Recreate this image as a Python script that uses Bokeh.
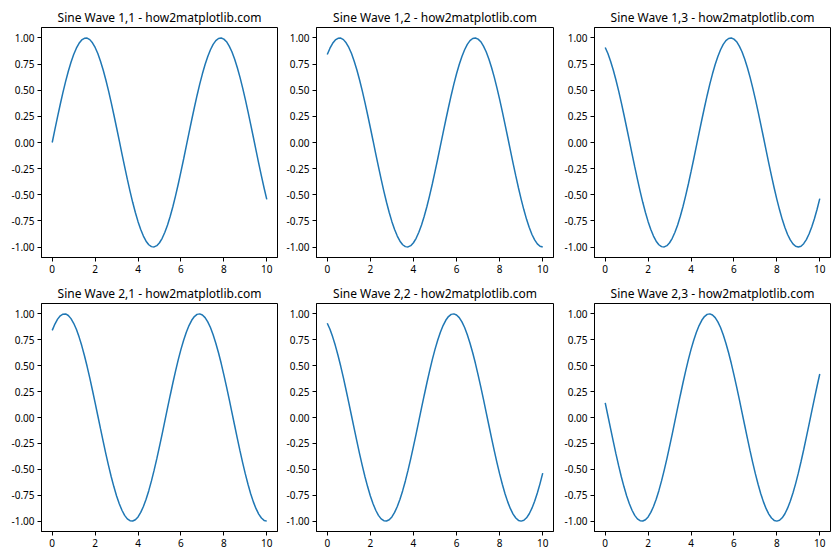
from bokeh.plotting import figure
from bokeh.layouts import gridplot
from bokeh.models import FixedTicker, NumeralTickFormatter, Range1d
from bokeh.embed import file_html
from bokeh.resources import INLINE

x = [0.0, 0.125, 0.25, 0.375, 0.5, 0.625, 0.75, 0.875,
     1.0, 1.125, 1.25, 1.375, 1.5, 1.625, 1.75, 1.875,
     2.0, 2.125, 2.25, 2.375, 2.5, 2.625, 2.75, 2.875,
     3.0, 3.125, 3.25, 3.375, 3.5, 3.625, 3.75, 3.875,
     4.0, 4.125, 4.25, 4.375, 4.5, 4.625, 4.75, 4.875,
     5.0, 5.125, 5.25, 5.375, 5.5, 5.625, 5.75, 5.875,
     6.0, 6.125, 6.25, 6.375, 6.5, 6.625, 6.75, 6.875,
     7.0, 7.125, 7.25, 7.375, 7.5, 7.625, 7.75, 7.875,
     8.0, 8.125, 8.25, 8.375, 8.5, 8.625, 8.75, 8.875,
     9.0, 9.125, 9.25, 9.375, 9.5, 9.625, 9.75, 9.875,
     10.0]

wave_a = [0.000, 0.125, 0.247, 0.366, 0.479, 0.585, 0.682, 0.768,
          0.841, 0.902, 0.949, 0.981, 0.997, 0.999, 0.984, 0.954,
          0.909, 0.851, 0.778, 0.694, 0.598, 0.494, 0.382, 0.263,
          0.141, 0.017, -0.108, -0.231, -0.351, -0.465, -0.572, -0.669,
          -0.757, -0.832, -0.895, -0.944, -0.978, -0.996, -0.999, -0.987,
          -0.959, -0.916, -0.859, -0.789, -0.706, -0.612, -0.508, -0.397,
          -0.279, -0.158, -0.033, 0.092, 0.215, 0.335, 0.450, 0.558,
          0.657, 0.746, 0.823, 0.887, 0.938, 0.974, 0.995, 1.000,
          0.989, 0.964, 0.922, 0.868, 0.798, 0.717, 0.625, 0.523,
          0.412, 0.295, 0.174, 0.050, -0.075, -0.199, -0.320, -0.435,
          -0.544]
wave_b = [0.841, 0.902, 0.949, 0.981, 0.997, 0.999, 0.984, 0.954,
          0.909, 0.851, 0.778, 0.694, 0.598, 0.494, 0.382, 0.263,
          0.141, 0.017, -0.108, -0.231, -0.351, -0.465, -0.572, -0.669,
          -0.757, -0.832, -0.895, -0.944, -0.978, -0.996, -0.999, -0.987,
          -0.959, -0.916, -0.859, -0.789, -0.706, -0.612, -0.508, -0.397,
          -0.279, -0.158, -0.033, 0.092, 0.215, 0.335, 0.450, 0.558,
          0.657, 0.746, 0.823, 0.887, 0.938, 0.974, 0.995, 1.000,
          0.989, 0.964, 0.922, 0.868, 0.798, 0.717, 0.625, 0.523,
          0.412, 0.295, 0.174, 0.050, -0.075, -0.199, -0.320, -0.435,
          -0.544, -0.644, -0.735, -0.814, -0.880, -0.932, -0.970, -0.993,
          -1.000]
wave_c = [0.909, 0.851, 0.778, 0.694, 0.598, 0.494, 0.382, 0.263,
          0.141, 0.017, -0.108, -0.231, -0.351, -0.465, -0.572, -0.669,
          -0.757, -0.832, -0.895, -0.944, -0.978, -0.996, -0.999, -0.987,
          -0.959, -0.916, -0.859, -0.789, -0.706, -0.612, -0.508, -0.397,
          -0.279, -0.158, -0.033, 0.092, 0.215, 0.335, 0.450, 0.558,
          0.657, 0.746, 0.823, 0.887, 0.938, 0.974, 0.995, 1.000,
          0.989, 0.964, 0.922, 0.868, 0.798, 0.717, 0.625, 0.523,
          0.412, 0.295, 0.174, 0.050, -0.075, -0.199, -0.320, -0.435,
          -0.544, -0.644, -0.735, -0.814, -0.880, -0.932, -0.970, -0.993,
          -1.000, -0.992, -0.968, -0.929, -0.875, -0.808, -0.729, -0.638,
          -0.537]
wave_d = [0.141, 0.017, -0.108, -0.231, -0.351, -0.465, -0.572, -0.669,
          -0.757, -0.832, -0.895, -0.944, -0.978, -0.996, -0.999, -0.987,
          -0.959, -0.916, -0.859, -0.789, -0.706, -0.612, -0.508, -0.397,
          -0.279, -0.158, -0.033, 0.092, 0.215, 0.335, 0.450, 0.558,
          0.657, 0.746, 0.823, 0.887, 0.938, 0.974, 0.995, 1.000,
          0.989, 0.964, 0.922, 0.868, 0.798, 0.717, 0.625, 0.523,
          0.412, 0.295, 0.174, 0.050, -0.075, -0.199, -0.320, -0.435,
          -0.544, -0.644, -0.735, -0.814, -0.880, -0.932, -0.970, -0.993,
          -1.000, -0.992, -0.968, -0.929, -0.875, -0.808, -0.729, -0.638,
          -0.537, -0.427, -0.311, -0.190, -0.066, 0.059, 0.183, 0.304,
          0.420]

titles = ["Sine Wave 1,1 - how2matplotlib.com", "Sine Wave 1,2 - how2matplotlib.com",
          "Sine Wave 1,3 - how2matplotlib.com", "Sine Wave 2,1 - how2matplotlib.com",
          "Sine Wave 2,2 - how2matplotlib.com", "Sine Wave 2,3 - how2matplotlib.com"]
panel_series = [wave_a, wave_b, wave_c, wave_b, wave_c, wave_d]

x_ticks = [0, 2, 4, 6, 8, 10]
y_ticks = [-1.0, -0.75, -0.5, -0.25, 0.0, 0.25, 0.5, 0.75, 1.0]

FONT = "Noto Sans"
col_borders = [(41, 3), (36, 7), (34, 10)]
row_borders = [(27, 23), (21, 29)]

figs = []
for i in range(2):
    row = []
    for j in range(3):
        k = i * 3 + j
        bl, br = col_borders[j]
        bt, bb = row_borders[i]
        p = figure(width=280, height=280, output_backend="svg", toolbar_location=None,
                   x_range=Range1d(-0.5, 10.5), y_range=Range1d(-1.1, 1.1),
                   min_border_left=bl, min_border_right=br,
                   min_border_top=bt, min_border_bottom=bb,
                   title=titles[k])
        p.line(x, panel_series[k], line_color="#1f77b4", line_width=1.5)
        p.title.text_font = FONT
        p.title.text_font_size = "12px"
        p.title.text_font_style = "normal"
        p.title.align = "center"
        p.title.text_color = "#000000"
        p.title.standoff = 4
        p.xgrid.visible = False
        p.ygrid.visible = False
        p.outline_line_color = "#000000"
        p.outline_line_width = 1
        p.background_fill_color = "white"
        p.border_fill_color = "white"
        p.xaxis.ticker = FixedTicker(ticks=x_ticks)
        p.yaxis.ticker = FixedTicker(ticks=y_ticks)
        p.yaxis.formatter = NumeralTickFormatter(format="0.00")
        for ax in (p.xaxis, p.yaxis):
            ax.major_label_text_font = FONT
            ax.major_label_text_font_size = "10px"
            ax.major_label_text_color = "#000000"
            ax.axis_line_color = "#000000"
            ax.major_tick_line_color = "#000000"
            ax.major_tick_out = 4
            ax.major_tick_in = 0
            ax.minor_tick_line_color = None
            ax.major_label_standoff = 3
        row.append(p)
    figs.append(row)

grid = gridplot(figs, toolbar_location=None)
open("out.html", "w").write(file_html(grid, INLINE))
